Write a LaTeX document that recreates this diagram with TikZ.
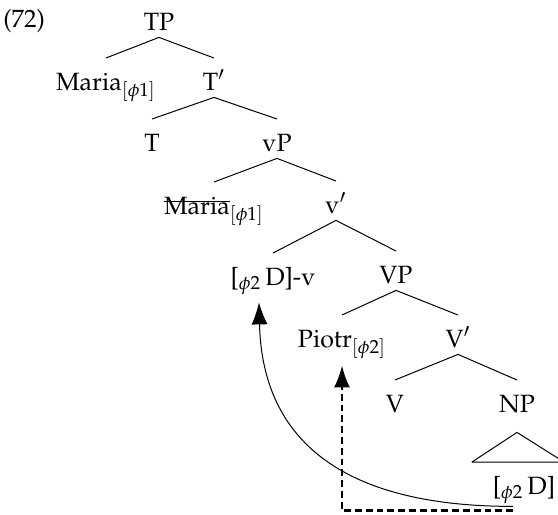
\documentclass[tikz,border=0pt]{standalone}
\usepackage[T1]{fontenc}
\usepackage{mathpazo}
\usetikzlibrary{arrows.meta}
\newcommand\struck[1]{\setbox0\hbox{#1}\rlap{\rule[1ex]{\wd0}{0.5pt}}\box0}
\begin{document}
\begin{tikzpicture}[x=0.5pt,y=-0.5pt,>={Latex[length=11pt,width=8pt]},line join=round,
	font=\fontsize{12.5}{15}\selectfont,
	lbl/.style={anchor=base,inner xsep=0pt,inner ysep=3.5pt,text height=12.3pt,text depth=0pt},
	edge/.style={line width=0.5pt}]
	\useasboundingbox (0,0) rectangle (558,515);
	\node[anchor=base west,inner sep=0pt] (ex) at (3,27) {(72)};
	
	\node[lbl] (TP) at (159,30) {TP};
	\node[lbl] (Ma) at (106,90) {Maria$_{[\phi1]}$};
	\node[lbl] (Tb) at (214,90) {T$'$};
	\node[lbl] (T) at (152,151) {T};
	\node[lbl] (vP) at (277,151) {vP};
	\node[lbl] (Mb) at (214,214) {\struck{Maria}$_{[\phi1]}$};
	\node[lbl] (vb) at (336,213) {v$'$};
	\node[lbl] (Dv) at (273,285) {[$_{\phi2}$\,D]-v};
	\node[lbl] (VP) at (396,283) {VP};
	\node[lbl] (Pi) at (342,347) {Piotr$_{[\phi2]}$};
	\node[lbl] (Vb) at (458,347) {V$'$};
	\node[lbl] (V) at (395,412) {V};
	\node[lbl] (NP) at (517,412) {NP};
	\node[lbl] (D) at (524,494) {[$_{\phi2}$\,D]};
	
	\foreach \p/\c in {TP/Ma,TP/Tb,Tb/T,Tb/vP,vP/Mb,vP/vb,vb/Dv,vb/VP,VP/Pi,VP/Vb,Vb/V,Vb/NP}
		\draw[edge] (\p.south) -- (\c.north);
	\draw[edge] ([yshift=-6.5pt]NP.south) -- ([xshift=-26pt]D.north) -- ([xshift=20pt]D.north) -- cycle;
	
	% movement
	\draw[edge,->] ([xshift=-5.5pt,yshift=-2.5pt]D.south) .. controls +(-183,0) and +(3,128) .. ([xshift=-7pt,yshift=-5pt]Dv.south);
	\draw[->,line width=1.2pt,dash pattern=on 3.4pt off 2pt,shorten >=5.5pt] ([xshift=-5.5pt,yshift=-4.5pt]D.south) -| (Pi.south);
\end{tikzpicture}
\end{document}
